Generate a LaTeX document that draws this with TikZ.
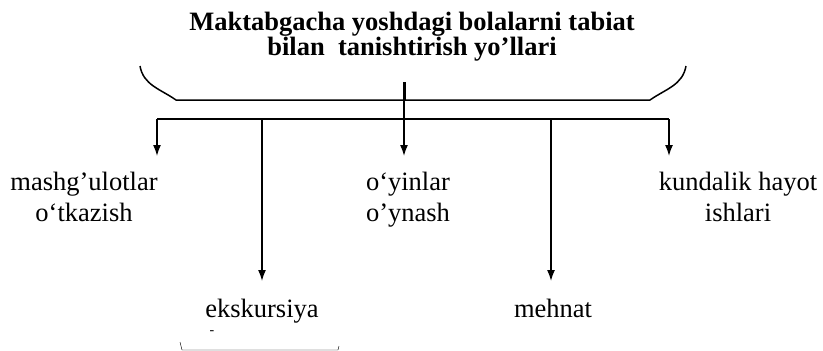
\documentclass[tikz,border=0pt]{standalone}
\usepackage{fontspec}
\setmainfont{Liberation Serif}
\usetikzlibrary{arrows.meta}

\tikzset{
  flecha/.style={line width=1.5pt,-{Latex[length=11pt,width=8pt]}},
  linea/.style={line width=1.5pt},
  texto/.style={inner sep=0pt,align=center,font=\fontsize{26.5}{31}\selectfont},
}

\begin{document}
\begin{tikzpicture}[x=1pt,y=-1pt]
      \useasboundingbox (0,0) rectangle (823,351);
      %titulo
      \node[texto,anchor=north,font=\bfseries\fontsize{26.5}{25}\selectfont] (titulo) at (412,12)
        {Maktabgacha yoshdagi bolalarni tabiat\\bilan\ \ tanishtirish yo’llari};

      %llave
      \coordinate (llizq) at (140,66);
      \coordinate (llder) at (686,66);
      \coordinate (llcen) at (404,100);
      \coordinate (tope) at (404,82);
      \draw[linea] (llizq) to[out=-80,in=145] (176,100) -- (650,100) to[out=35,in=-100] (llder);
      \draw[line width=3pt] (tope) -- (llcen);

      %eje
      \coordinate (e1) at (157,119);
      \coordinate (e2) at (262,119);
      \coordinate (e3) at (404,119);
      \coordinate (e4) at (551,119);
      \coordinate (e5) at (669,119);
      \draw[linea] (llcen) -- (e3);
      \draw[linea] (e1) -- (e5);

      % puntas
      \coordinate (p1) at (157,156);
      \coordinate (p2) at (262,281);
      \coordinate (p3) at (404,156);
      \coordinate (p4) at (551,281);
      \coordinate (p5) at (669,156);
      \foreach \i in {1,...,5}
      \draw[flecha] (e\i) -- (p\i);

      % etiquetas
      \node[texto,anchor=north] (mashg) at (84,172) {mashg’ulotlar\\o‘tkazish};
      \node[texto,anchor=north] (oyin) at (408,172) {o‘yinlar\\o’ynash};
      \node[texto,anchor=north] (kund) at (738,172) {kundalik hayot\\ishlari};
      \node[texto,anchor=base] (eksk) at (262,317) {ekskursiya};
      \node[texto,anchor=base] (mehn) at (553,317) {mehnat};
      \node[inner sep=0pt,font=\fontsize{14}{14}\selectfont] (raya) at (212,333) {-};
      \draw[thin] (180,342) -- (182,350) -- (338,350) -- (339,346);
\end{tikzpicture}
\end{document}
